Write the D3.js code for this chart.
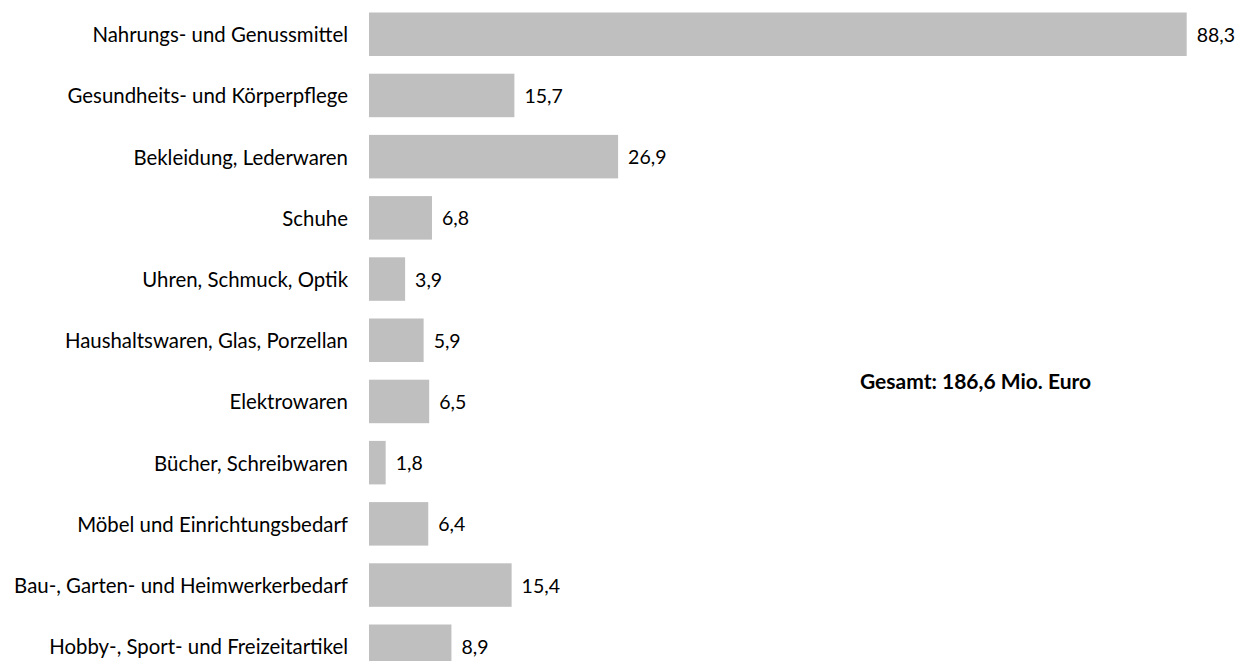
<!DOCTYPE html>
<html><head><meta charset="utf-8">
<script src="https://cdn.jsdelivr.net/npm/d3@7"></script>
<style>html,body{margin:0;padding:0;background:#fff;overflow:hidden}</style>
</head><body>
<svg id="c" width="1237" height="661"></svg>
<script>
const categories = ["Nahrungs- und Genussmittel","Gesundheits- und Körperpflege","Bekleidung, Lederwaren","Schuhe","Uhren, Schmuck, Optik","Haushaltswaren, Glas, Porzellan","Elektrowaren","Bücher, Schreibwaren","Möbel und Einrichtungsbedarf","Bau-, Garten- und Heimwerkerbedarf","Hobby-, Sport- und Freizeitartikel"];
const values = [88.3,15.7,26.9,6.8,3.9,5.9,6.5,1.8,6.4,15.4,8.9];
const totalLabel = "Gesamt: 186,6 Mio. Euro";

(function(){
const svg = d3.select("#c");
const font = "Lato, 'Open Sans', sans-serif";
const x = d3.scaleLinear().domain([0, 88.3]).range([369, 1186.7]);
const step = 61.2, bh = 43.5, y0 = 12.5;
const y = d3.scaleBand().domain(categories).range([y0, y0 + 10*step + bh]).paddingInner(1 - bh/step).paddingOuter(0);
const fmt = v => d3.format(".1f")(v).replace(".", ",");

svg.selectAll("rect.bar").data(values).join("rect")
  .attr("x", x(0)).attr("y", (d,i) => y(categories[i]))
  .attr("width", d => x(d) - x(0)).attr("height", y.bandwidth())
  .attr("fill", "#bfbfbf");

svg.selectAll("text.cat").data(categories).join("text")
  .attr("x", 348).attr("y", d => y(d) + y.bandwidth()/2)
  .attr("text-anchor", "end").attr("dominant-baseline", "central")
  .attr("font-family", font).attr("font-size", 20.4).attr("fill", "#000")
  .text(d => d);

svg.selectAll("text.val").data(values).join("text")
  .attr("x", d => x(d) + 10).attr("y", (d,i) => y(categories[i]) + y.bandwidth()/2)
  .attr("dominant-baseline", "central")
  .attr("font-family", font).attr("font-size", 19.5).attr("fill", "#000")
  .text(d => fmt(d));

svg.append("text").attr("x", 860).attr("y", 380)
  .attr("dominant-baseline", "central")
  .attr("font-family", font).attr("font-size", 21).attr("font-weight", "bold").attr("fill", "#000")
  .text(totalLabel);
})();
</script>
</body></html>
